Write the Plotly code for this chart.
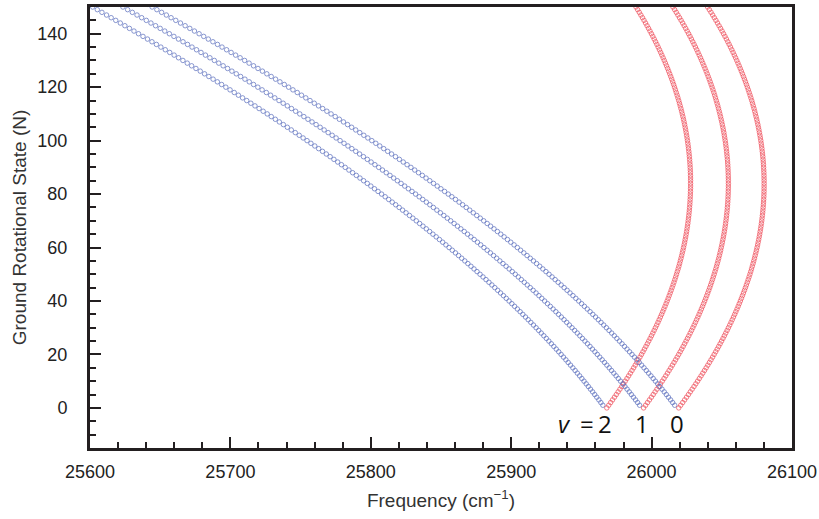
import numpy as np
import plotly.graph_objects as go

# Band data (v' = v'' sequence bands)
band_v = [2, 1, 0]
band_origin = [25966.7, 25992.9, 26017.9]     # cm^-1
B_upper = [0.6991, 0.7077, 0.7148]            # cm^-1
B_lower = [0.7068, 0.7155, 0.7227]            # cm^-1
D_upper = [1.242e-6, 1.257e-6, 1.270e-6]      # cm^-1
D_lower = [1.247e-6, 1.262e-6, 1.275e-6]      # cm^-1
N_last = 152

x_range = [25600, 26100]
x_ticks = [25600, 25700, 25800, 25900, 26000, 26100]
y_range = [-15, 150]
y_ticks = [0, 20, 40, 60, 80, 100, 120, 140]

P_COLOR = "rgba(92,112,190,0.8)"
R_COLOR = "rgba(238,80,92,0.8)"


def term(B, D, J):
    return B * J * (J + 1) - D * J ** 2 * (J + 1) ** 2


fig = go.Figure()
for v, nu0, Bu, Bl, Du, Dl in zip(band_v, band_origin, B_upper, B_lower, D_upper, D_lower):
    N_p = np.arange(1, N_last + 1)
    N_r = np.arange(0, N_last + 1)
    P = nu0 + term(Bu, Du, N_p - 1) - term(Bl, Dl, N_p)
    R = nu0 + term(Bu, Du, N_r + 1) - term(Bl, Dl, N_r)
    fig.add_trace(go.Scatter(
        x=P, y=N_p, mode="markers", name=f"P v={v}", showlegend=False,
        marker=dict(symbol="circle-open", size=4.5, color=P_COLOR, line=dict(width=0.9)),
    ))
    fig.add_trace(go.Scatter(
        x=R, y=N_r, mode="markers", name=f"R v={v}", showlegend=False,
        marker=dict(symbol="circle-open", size=4.5, color=R_COLOR, line=dict(width=0.9)),
    ))

label_font = dict(family="Open Sans, Liberation Sans, sans-serif", size=24, color="#111")
fig.add_annotation(x=band_origin[0], y=-6, text="<i>v</i>", showarrow=False,
                   xanchor="center", yanchor="middle", xshift=-40, font=label_font)
fig.add_annotation(x=band_origin[0], y=-6, text="=", showarrow=False,
                   xanchor="center", yanchor="middle", xshift=-18, font=label_font)
for v, nu0 in zip(band_v, band_origin):
    fig.add_annotation(x=nu0, y=-6, text=str(v), showarrow=False,
                       xanchor="center", yanchor="middle", font=label_font)

axis_common = dict(
    showline=True, mirror=True, linewidth=3, linecolor="#231f20",
    ticks="inside", ticklen=11, tickwidth=2, tickcolor="#231f20",
    showgrid=False, zeroline=False,
    tickfont=dict(family="Liberation Sans, Arial, sans-serif", size=18, color="#222"),
    title_font=dict(family="Liberation Sans, Arial, sans-serif", size=19, color="#333"),
)

fig.update_xaxes(
    range=x_range, tickvals=x_ticks, ticktext=[str(t) for t in x_ticks],
    title_text="Frequency (cm<sup>\u22121</sup>)", title_standoff=14,
    ticklabelstandoff=5,
    minor=dict(ticks="inside", ticklen=6, tickwidth=1.8, tickcolor="#231f20", dtick=20, tick0=25600),
    **axis_common,
)
fig.update_yaxes(
    range=y_range, tickvals=y_ticks, ticktext=[str(t) for t in y_ticks],
    title_text="Ground Rotational State (N)", title_standoff=6,
    ticklabelstandoff=16,
    minor=dict(ticks="inside", ticklen=6, tickwidth=1.8, tickcolor="#231f20", dtick=5, tick0=0),
    **axis_common,
)

fig.update_layout(
    width=819, height=519,
    margin=dict(l=90, r=27, t=7, b=71, autoexpand=False),
    plot_bgcolor="white", paper_bgcolor="white",
    showlegend=False,
)

fig.write_html(
    "out.html",
    config={"displayModeBar": False},
    post_script="document.body.style.margin='0';document.body.style.overflow='hidden';",
)
